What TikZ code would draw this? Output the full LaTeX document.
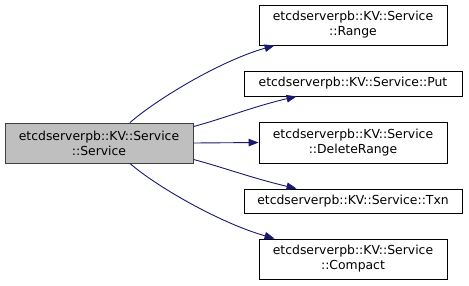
\documentclass[tikz,border=0pt]{standalone}
\usepackage{fontspec}
\setmainfont{DejaVu Sans}
\usetikzlibrary{arrows.meta,calc}
\definecolor{edgeblue}{HTML}{191970}
\definecolor{boxgray}{HTML}{BFBFBF}
\tikzset{
  fn/.style={draw=black, line width=0.9pt, fill=white, inner sep=0pt, align=center,
    font=\fontsize{12.4}{15}\selectfont},
  callee/.style={fn},
  caller/.style={fn, fill=boxgray, draw=black!75},
  call/.style={draw=edgeblue, line width=0.9pt,
    -{Triangle[length=10pt,width=7.5pt,fill=edgeblue]}},
}
\begin{document}
\begin{tikzpicture}[x=1pt,y=-1pt]
\useasboundingbox (0,0) rectangle (469,285);
\node[caller, minimum width=188pt, minimum height=40pt] (main) at (99,143)
  {etcdserverpb::KV::Service\\::Service};
\node[callee, minimum width=188pt, minimum height=40pt] (range) at (353,25)
  {etcdserverpb::KV::Service\\::Range};
\node[callee, minimum width=218pt, minimum height=25pt] (put) at (353,83.5)
  {etcdserverpb::KV::Service::Put};
\node[callee, minimum width=188pt, minimum height=41pt] (del) at (353,142.5)
  {etcdserverpb::KV::Service\\::DeleteRange};
\node[callee, minimum width=218pt, minimum height=24pt] (txn) at (353,201)
  {etcdserverpb::KV::Service::Txn};
\node[callee, minimum width=188pt, minimum height=40pt] (compact) at (353,259)
  {etcdserverpb::KV::Service\\::Compact};

\draw[call] ($(main.north)+(31,0)$) .. controls ($(main.north)+(56,-22)$) and ($(range.south west)+(-40,16)$) .. ($(range.south west)+(16,0)$);
\draw[call] ($(main.north east)+(0,4)$) .. controls ($(main.north east)+(30,-4)$) and ($(put.south west)+(10,10)$) .. ($(put.south west)+(53,0)$);
\draw[call] (main.east) -- (del.west);
\draw[call] ($(main.south east)+(0,-4)$) .. controls ($(main.south east)+(30,4)$) and ($(txn.north west)+(10,-10)$) .. ($(txn.north west)+(53,0)$);
\draw[call] ($(main.south)+(31,0)$) .. controls ($(main.south)+(56,22)$) and ($(compact.north west)+(-40,-16)$) .. ($(compact.north west)+(16,0)$);
\end{tikzpicture}
\end{document}
